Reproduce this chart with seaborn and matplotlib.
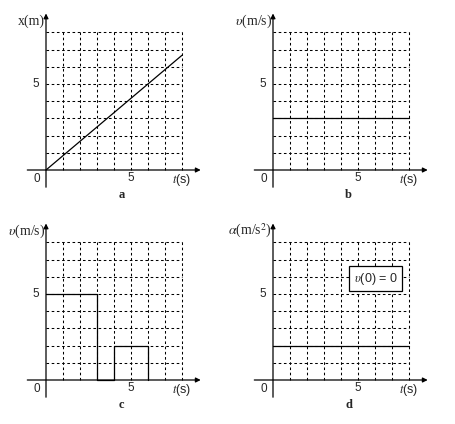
import numpy as np
import pandas as pd
import matplotlib
matplotlib.use('Agg')
import matplotlib.pyplot as plt
import seaborn as sns

# graph values
t_a = [0, 8]
x_a = [0, 6.67]
t_b = [0, 8]
v_b = [3, 3]
t_c = [0, 3, 3, 4, 4, 6, 6]
v_c = [5, 5, 0, 0, 2, 2, 0]
t_d = [0, 8]
a_d = [2, 2]

panel_letters = ['a', 'b', 'c', 'd']
y_labels = ['x(m)', r'$\upsilon$(m/s)', r'$\upsilon$(m/s)', r'$\alpha$(m/s$^2$)']
grid_max = 8

sns.set_style('white')
plt.rcParams['font.family'] = ['Liberation Serif', 'DejaVu Serif']
plt.rcParams['mathtext.fontset'] = 'stix'

W, H = 455, 424
fig = plt.figure(figsize=(W / 100, H / 100), dpi=100)

# origin pixel (from top-left) and pixel size of one unit
origins = [(46, 170), (273, 170), (46, 380), (273, 380)]
ux, uy = 17.0, 17.2
xlim = (-2.0, 10.0)
ylim = (-2.5, 9.8)

series = [(t_a, x_a), (t_b, v_b), (t_c, v_c), (t_d, a_d)]
sans = 'Liberation Sans'

for i, (ox, oy) in enumerate(origins):
    left = ox + xlim[0] * ux
    top = oy - ylim[1] * uy
    w = (xlim[1] - xlim[0]) * ux
    h = (ylim[1] - ylim[0]) * uy
    ax = fig.add_axes([left / W, 1 - (top + h) / H, w / W, h / H])

    # dotted grid
    for k in range(1, grid_max + 1):
        ax.plot([k, k], [0, grid_max], color='black', lw=0.75, ls=(0, (2.5, 2.5)))
        ax.plot([0, grid_max], [k, k], color='black', lw=0.75, ls=(0, (2.5, 2.5)))

    # axes with arrows
    ax.annotate('', xy=(9.1, 0), xytext=(-1.1, 0),
                arrowprops=dict(arrowstyle='-|>', color='black', lw=0.9,
                                mutation_scale=7, shrinkA=0, shrinkB=0))
    ax.annotate('', xy=(0, 9.1), xytext=(0, -1.0),
                arrowprops=dict(arrowstyle='-|>', color='black', lw=0.9,
                                mutation_scale=7, shrinkA=0, shrinkB=0))

    t, y = series[i]
    df = pd.DataFrame({'t': t, 'y': y})
    sns.lineplot(data=df, x='t', y='y', ax=ax, color='black', lw=0.9,
                 estimator=None, sort=False, legend=False)
    ax.set_xlim(xlim)
    ax.set_ylim(ylim)
    ax.axis('off')

    fs = 8.5
    ax.text(-0.55, -0.5, '0', ha='center', va='center', fontsize=fs, family=sans)
    ax.text(5, -0.45, '5', ha='center', va='center', fontsize=fs, family=sans)
    ax.text(-0.6, 5, '5', ha='center', va='center', fontsize=fs, family=sans)
    ax.text(8.0, -0.6, r'$t$(s)', ha='center', va='center', fontsize=9, family=sans)
    ax.text(-0.05, 8.65, y_labels[i], ha='right', va='center', fontsize=10)
    ax.text(4.45, -1.45, panel_letters[i], ha='center', va='center',
            fontsize=9, fontweight='bold')

    if i == 3:
        ax.text(6.05, 5.9, r'$\upsilon$(0) = 0', ha='center', va='center', fontsize=9,
                family=sans,
                bbox=dict(boxstyle='square,pad=0.35', fc='white', ec='black', lw=0.9))

fig.savefig('out.png', dpi=100)
